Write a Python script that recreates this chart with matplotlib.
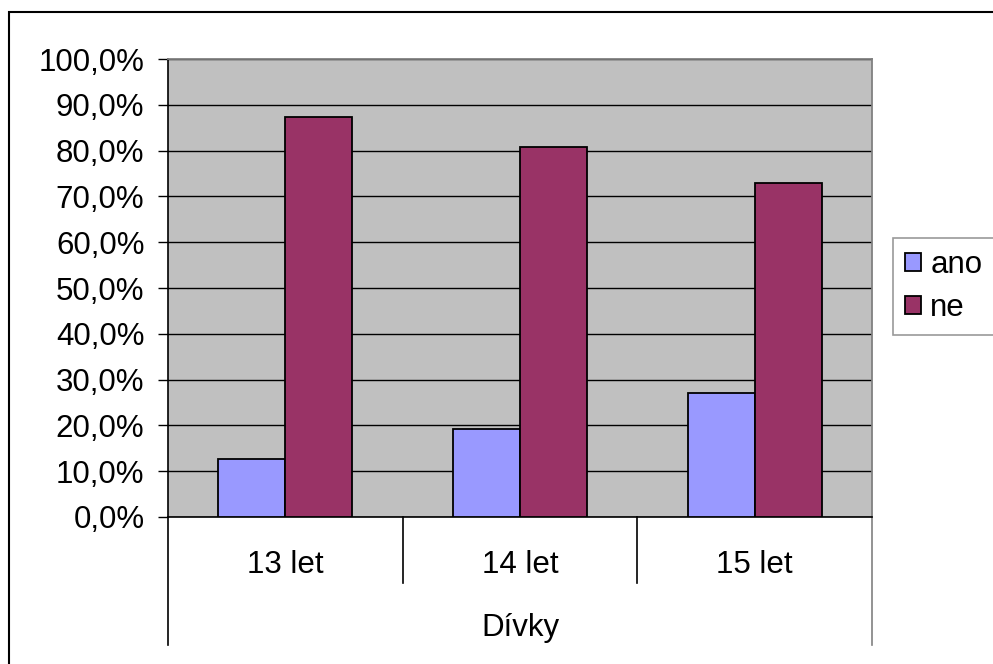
import numpy as np
import matplotlib.pyplot as plt
from matplotlib.ticker import FuncFormatter
from matplotlib.lines import Line2D
from matplotlib.patches import Rectangle

plt.rcParams['font.family'] = ['Liberation Sans', 'DejaVu Sans']

# Data
categories = ["13 let", "14 let", "15 let"]
group_label = "Dívky"
ano = [12.7, 19.2, 27.1]
ne = [87.3, 80.8, 72.9]

fs = 22.5

fig = plt.figure(figsize=(9.93, 6.64), dpi=100)
ax = fig.add_axes([0.1692, 0.2214, 0.7090, 0.6897])
ax.set_facecolor('#C0C0C0')

x = np.arange(len(categories))
w = 0.285
b1 = ax.bar(x - w / 2, ano, w, color='#9999FF', edgecolor='black', linewidth=1.3, label='ano', zorder=3)
b2 = ax.bar(x + w / 2, ne, w, color='#993366', edgecolor='black', linewidth=1.3, label='ne', zorder=3)

ax.set_xlim(-0.5, 2.5)
ax.set_ylim(0, 100)
ax.set_yticks(np.arange(0, 101, 10))
ax.yaxis.set_major_formatter(FuncFormatter(lambda v, p: f"{v:.1f}%".replace('.', ',')))
ax.tick_params(axis='y', labelsize=fs, length=7, width=1, direction='out', pad=10)
ax.set_xticks([])
ax.yaxis.grid(True, color='black', linewidth=1)
ax.set_axisbelow(True)

for s in ['top', 'right']:
    ax.spines[s].set_color('#808080')
    ax.spines[s].set_linewidth(1.3)
ax.spines['left'].set_linewidth(1.2)
ax.spines['bottom'].set_linewidth(1.2)

# Multi-level category axis
tr = ax.get_xaxis_transform()
for i, bx in enumerate([-0.5, 0.5, 1.5, 2.5]):
    y_end = -0.279 if i in (0, 3) else -0.144
    col = '#808080' if i == 3 else 'black'
    ax.add_line(Line2D([bx, bx], [0, y_end], transform=tr, color=col, linewidth=1.2, clip_on=False))
for i, c in enumerate(categories):
    ax.text(i, -0.105, c, transform=tr, ha='center', va='center', fontsize=fs)
ax.text(1, -0.242, group_label, transform=tr, ha='center', va='center', fontsize=fs)

# Legend
leg = fig.legend(handles=[b1, b2], loc='upper left', bbox_to_anchor=(0.899, 0.642),
                 fontsize=fs, frameon=True, fancybox=False, handlelength=0.5, handleheight=0.5,
                 handletextpad=0.3, labelspacing=0.4, borderpad=0.4, borderaxespad=0)
leg.get_frame().set_edgecolor('#808080')
leg.get_frame().set_linewidth(1.2)

# Outer chart frame
fig.patches.append(Rectangle((0.009, -0.1), 1.2, 1.082, transform=fig.transFigure,
                             fill=False, edgecolor='black', linewidth=1.5))

fig.savefig('out.png', dpi=100)
